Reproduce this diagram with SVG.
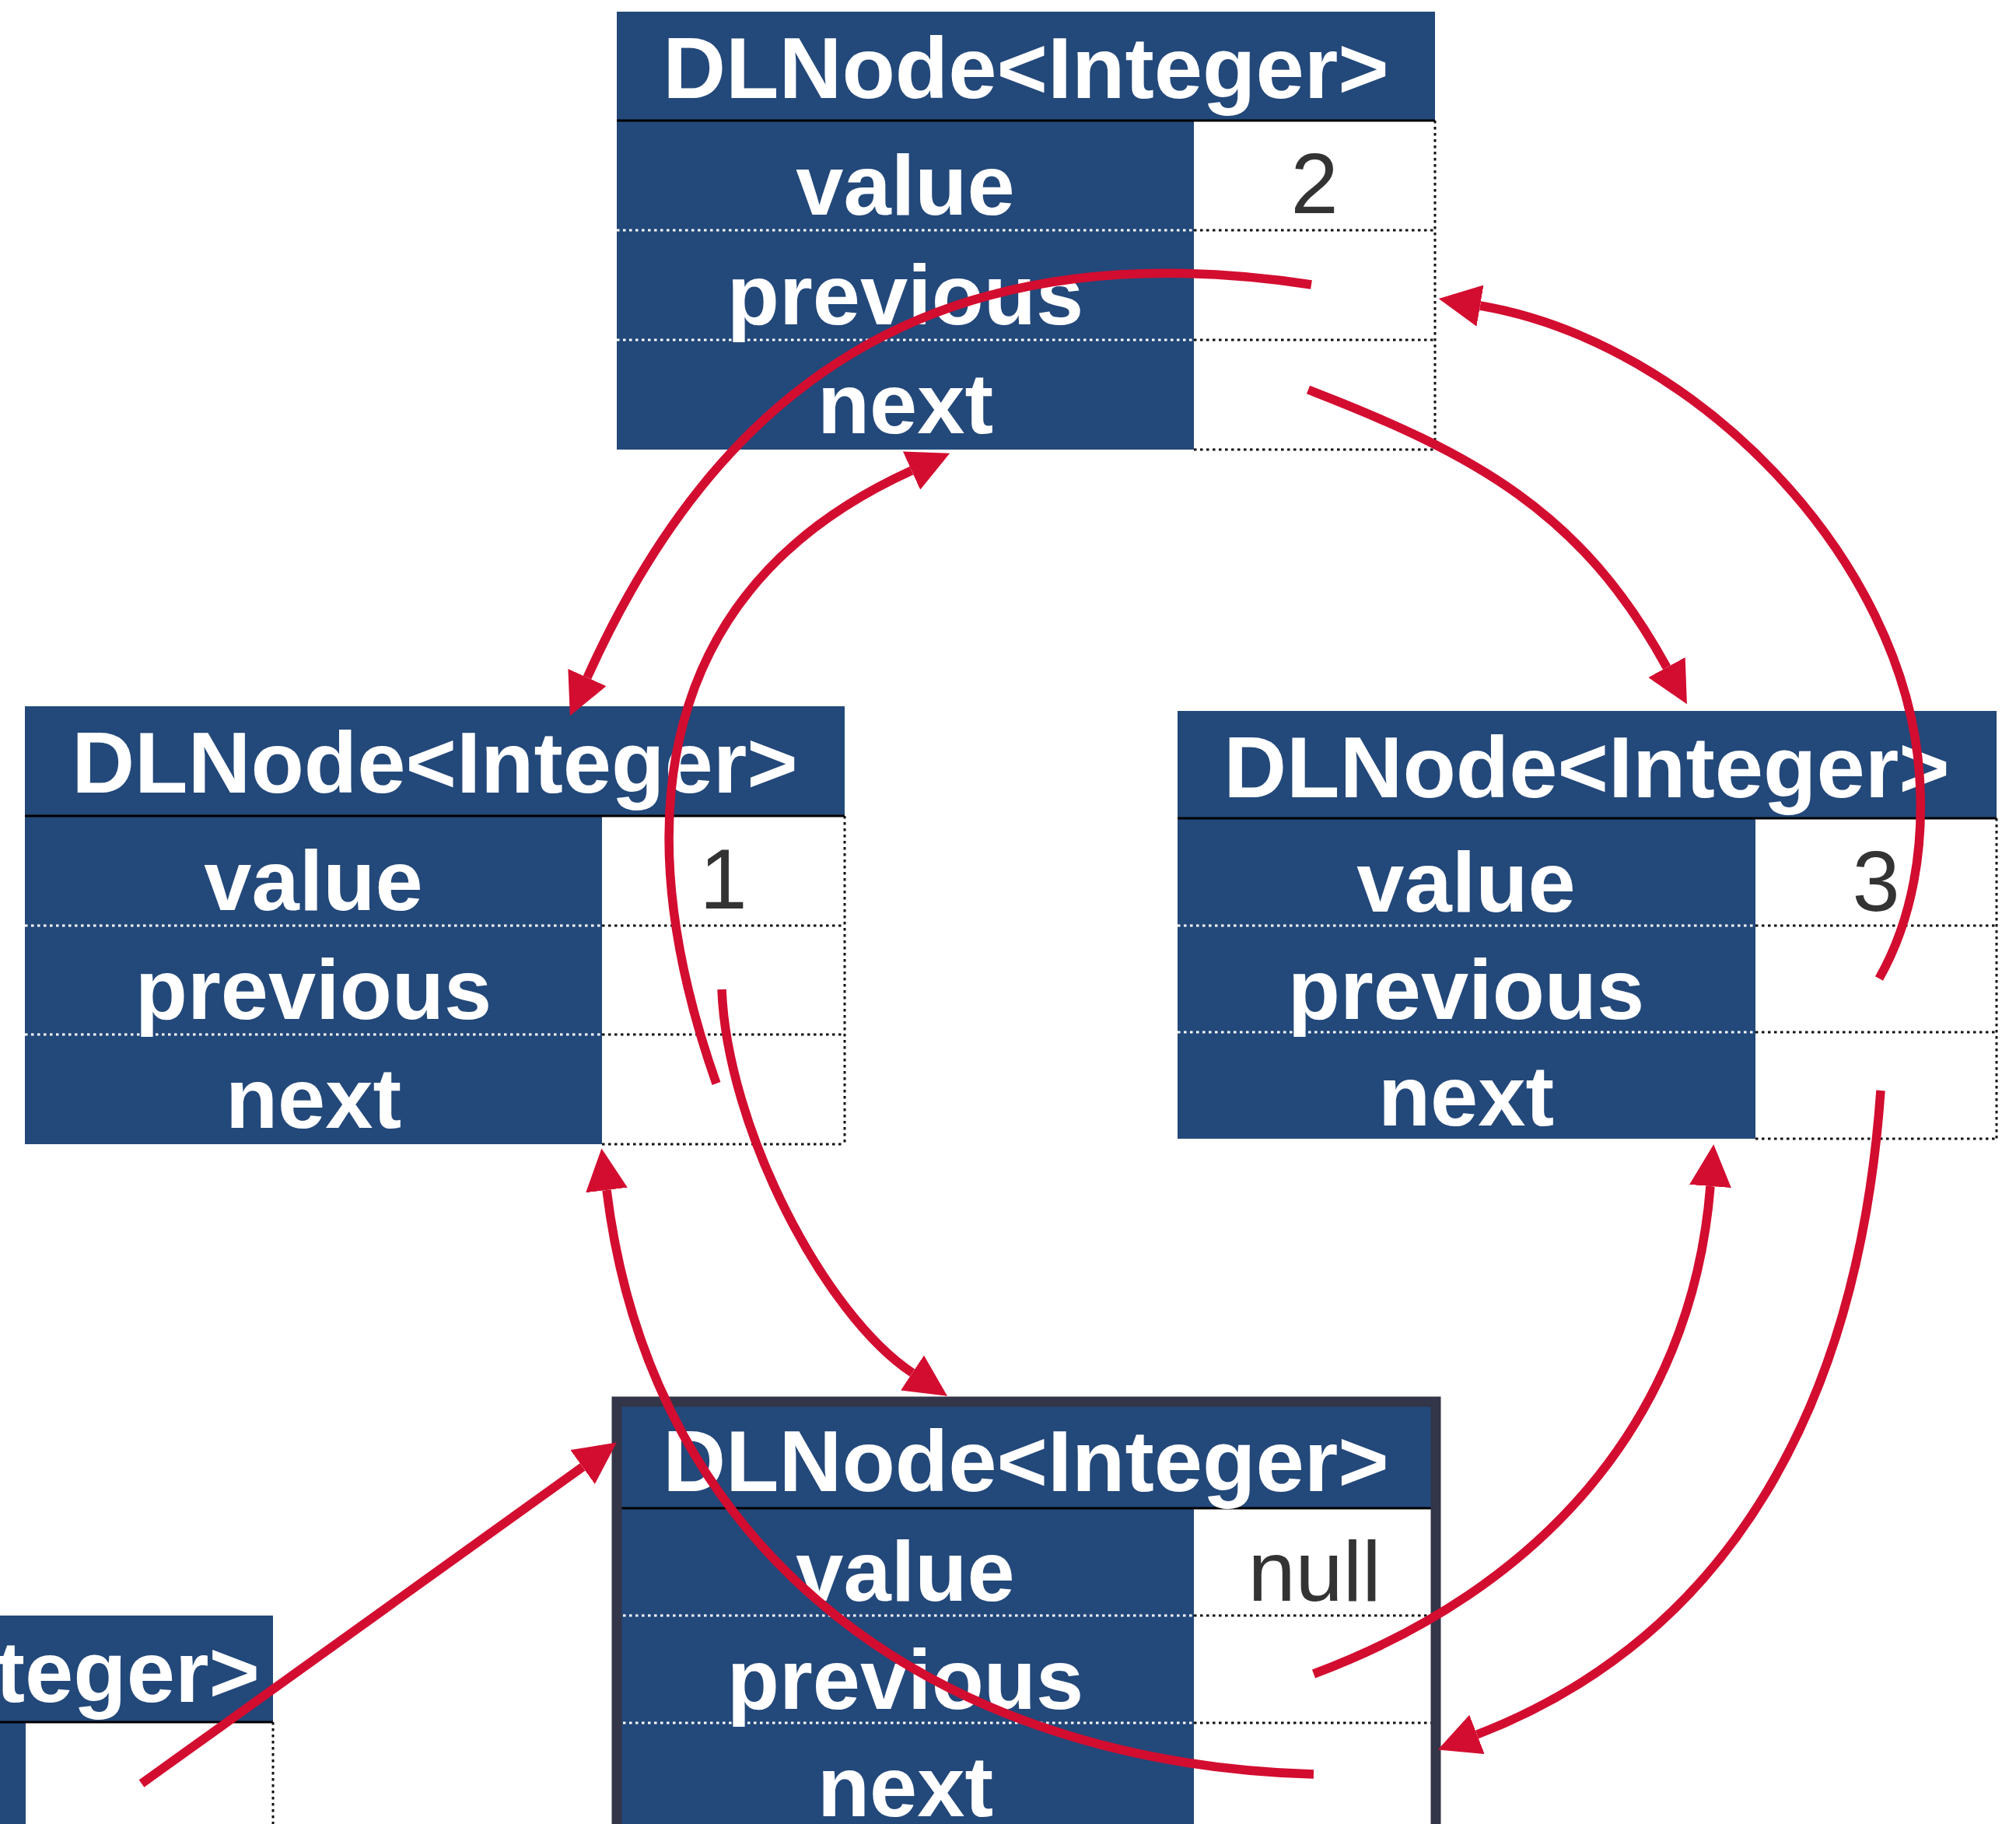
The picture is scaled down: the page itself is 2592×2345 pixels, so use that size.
<svg xmlns="http://www.w3.org/2000/svg" width="2592" height="2345" viewBox="0 0 2592 2345">
  <style>
    .blue { fill: #23487a; }
    .rule { stroke: #000; stroke-width: 3; }
    .dot-w { fill: none; stroke: #ffffff; stroke-width: 3; stroke-dasharray: 3.5 4.5; }
    .dot-k { fill: none; stroke: #111111; stroke-width: 3; stroke-dasharray: 3.5 4.5; }
    .title { font-family: "Liberation Sans", Arial, sans-serif; font-weight: bold; font-size: 112px; fill: #ffffff; text-anchor: middle; }
    .field { font-family: "Liberation Sans", Arial, sans-serif; font-weight: bold; font-size: 110px; fill: #ffffff; text-anchor: middle; }
    .val { font-family: "Liberation Sans", Arial, sans-serif; font-size: 110px; fill: #333333; text-anchor: middle; }
    .frame { fill: none; stroke: #333548; stroke-width: 13; }
    .link { fill: none; stroke: #d30d30; stroke-width: 11.5; stroke-linecap: butt; marker-end: url(#head); }
  </style>
  <defs>
    <marker id="head" viewBox="0 0 54 54" refX="0" refY="27" markerWidth="54" markerHeight="54" markerUnits="userSpaceOnUse" orient="auto">
      <path d="M0,0 L54,27 L0,54 Z" fill="#d30d30"/>
    </marker>
  </defs>
  <rect x="0" y="0" width="2592" height="2345" fill="#ffffff"/>

  <!-- node holding 2 -->
  <g id="node-2" transform="translate(793,15)">
    <rect class="blue" x="0" y="0" width="1052" height="140"/>
    <rect class="blue" x="0" y="140" width="742" height="423"/>
    <path class="dot-w" d="M0,281H742M0,422H742"/>
    <path class="dot-k" d="M742,281H1052M742,422H1052M742,563H1052M1052,140V563"/>
    <line class="rule" x1="0" y1="140" x2="1052" y2="140"/>
    <text class="title" x="526" y="111">DLNode&lt;Integer&gt;</text>
    <text class="field" x="371" y="261">value</text>
    <text class="field" x="371" y="402">previous</text>
    <text class="field" x="371" y="542">next</text>
    <text class="val" x="897" y="259">2</text>
  </g>

  <!-- node holding 1 -->
  <g id="node-1" transform="translate(32,908)">
    <rect class="blue" x="0" y="0" width="1054" height="141"/>
    <rect class="blue" x="0" y="141" width="742" height="422"/>
    <path class="dot-w" d="M0,282H742M0,422H742"/>
    <path class="dot-k" d="M742,282H1054M742,422H1054M742,563H1054M1054,141V563"/>
    <line class="rule" x1="0" y1="141" x2="1054" y2="141"/>
    <text class="title" x="527" y="111">DLNode&lt;Integer&gt;</text>
    <text class="field" x="371" y="262">value</text>
    <text class="field" x="371" y="402">previous</text>
    <text class="field" x="371" y="542">next</text>
    <text class="val" x="898" y="260">1</text>
  </g>

  <!-- node holding 3 -->
  <g id="node-3" transform="translate(1514,914)">
    <rect class="blue" x="0" y="0" width="1053" height="138"/>
    <rect class="blue" x="0" y="138" width="743" height="412"/>
    <path class="dot-w" d="M0,276H743M0,413H743"/>
    <path class="dot-k" d="M743,276H1053M743,413H1053M743,550H1053M1053,138V550"/>
    <line class="rule" x1="0" y1="138" x2="1053" y2="138"/>
    <text class="title" x="526" y="111">DLNode&lt;Integer&gt;</text>
    <text class="field" x="371" y="258">value</text>
    <text class="field" x="371" y="396">previous</text>
    <text class="field" x="371" y="533">next</text>
    <text class="val" x="898" y="257">3</text>
  </g>

  <!-- sentinel node holding null, drawn with a heavy frame -->
  <g id="node-null" transform="translate(793,1802)">
    <rect class="blue" x="0" y="0" width="1053" height="137"/>
    <rect class="blue" x="0" y="137" width="742" height="420"/>
    <path class="dot-w" d="M0,275H742M0,413H742"/>
    <path class="dot-k" d="M742,275H1053M742,413H1053"/>
    <line class="rule" x1="0" y1="137" x2="1053" y2="137"/>
    <text class="title" x="526" y="115">DLNode&lt;Integer&gt;</text>
    <text class="field" x="371" y="256">value</text>
    <text class="field" x="371" y="395">previous</text>
    <text class="field" x="371" y="533">next</text>
    <text class="val" x="897" y="256">null</text>
    <rect class="frame" x="0" y="0" width="1053" height="600"/>
  </g>

  <!-- node cut off at the lower left edge -->
  <g id="node-left">
    <rect class="blue" x="-701" y="2077" width="1052" height="137"/>
    <rect class="blue" x="-701" y="2214" width="734" height="140"/>
    <path class="dot-k" d="M351,2214V2351"/>
    <line class="rule" x1="-701" y1="2214" x2="351" y2="2214"/>
    <text class="title" x="334" y="2188" style="text-anchor:end">DLNode&lt;Integer&gt;</text>
  </g>

  <!-- references between nodes -->
  <g id="links">
    <path class="link" d="M1686,366 C1191,291 919,507 755,871"/>
    <path class="link" d="M1682,501 C1896,584 2033,657 2143,858"/>
    <path class="link" d="M2416,1258 C2460,1180 2474,1088 2468,998 C2450,718 2179,440 1903,393"/>
    <path class="link" d="M2418,1402 C2390,1802 2227,2103 1899,2230"/>
    <path class="link" d="M1689,2152 C1976,2045 2175,1830 2199,1525"/>
    <path class="link" d="M1689,2281 C1209,2267 838,2005 780,1530"/>
    <path class="link" d="M921,1393 C802,1055 844,754 1172,605"/>
    <path class="link" d="M928,1272 C935,1450 1060,1690 1173,1765"/>
    <path class="link" d="M182,2293 L749,1886"/>
  </g>
</svg>
